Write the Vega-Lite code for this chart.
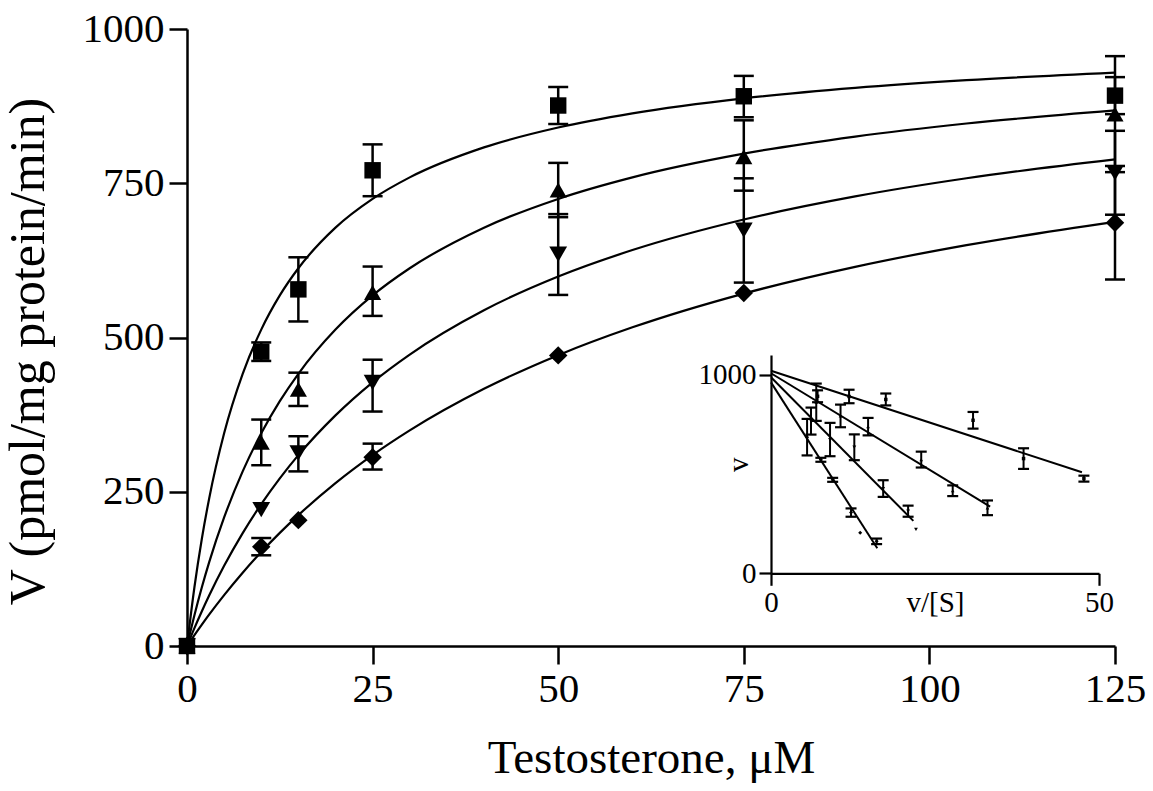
{
  "$schema": "https://vega.github.io/schema/vega-lite/v6.json",
  "width": 928,
  "height": 617,
  "autosize": {"type": "none"},
  "padding": {"left": 187, "top": 29, "right": 38, "bottom": 145},
  "background": "white",
  "config": {
    "view": {"stroke": null},
    "font": "Liberation Serif",
    "axis": {
      "grid": false, "domainColor": "black", "tickColor": "black", "labelColor": "black", "titleColor": "black",
      "labelFont": "Liberation Serif", "titleFont": "Liberation Serif", "titleFontWeight": "normal",
      "labelFlush": false, "labelOverlap": false, "labelBound": false, "format": "d"
    }
  },
  "datasets": {
    "pts": [
      {"s": "sq", "x": 0, "v": 0}, {"s": "sq", "x": 10, "v": 477}, {"s": "sq", "x": 15, "v": 578}, {"s": "sq", "x": 25, "v": 771}, {"s": "sq", "x": 50, "v": 876}, {"s": "sq", "x": 75, "v": 891}, {"s": "sq", "x": 125, "v": 892},
      {"s": "tu", "x": 0, "v": 0}, {"s": "tu", "x": 10, "v": 330}, {"s": "tu", "x": 15, "v": 416}, {"s": "tu", "x": 25, "v": 573}, {"s": "tu", "x": 50, "v": 739}, {"s": "tu", "x": 75, "v": 793}, {"s": "tu", "x": 125, "v": 862},
      {"s": "td", "x": 0, "v": 0}, {"s": "td", "x": 10, "v": 221}, {"s": "td", "x": 15, "v": 313}, {"s": "td", "x": 25, "v": 427}, {"s": "td", "x": 50, "v": 635}, {"s": "td", "x": 75, "v": 674}, {"s": "td", "x": 125, "v": 767},
      {"s": "di", "x": 0, "v": 0}, {"s": "di", "x": 10, "v": 161}, {"s": "di", "x": 15, "v": 204}, {"s": "di", "x": 25, "v": 306}, {"s": "di", "x": 50, "v": 471}, {"s": "di", "x": 75, "v": 572}, {"s": "di", "x": 125, "v": 686}
    ],
    "errs": [
      {"s": "sq", "x": 10, "lo": 462, "hi": 492}, {"s": "sq", "x": 15, "lo": 526, "hi": 630}, {"s": "sq", "x": 25, "lo": 729, "hi": 813}, {"s": "sq", "x": 50, "lo": 846, "hi": 906}, {"s": "sq", "x": 75, "lo": 857, "hi": 924}, {"s": "sq", "x": 125, "lo": 862, "hi": 922},
      {"s": "tu", "x": 10, "lo": 293, "hi": 367}, {"s": "tu", "x": 15, "lo": 389, "hi": 443}, {"s": "tu", "x": 25, "lo": 535, "hi": 615}, {"s": "tu", "x": 50, "lo": 695, "hi": 783}, {"s": "tu", "x": 75, "lo": 738, "hi": 852}, {"s": "tu", "x": 125, "lo": 768, "hi": 956},
      {"s": "td", "x": 15, "lo": 283, "hi": 340}, {"s": "td", "x": 25, "lo": 380, "hi": 464}, {"s": "td", "x": 50, "lo": 569, "hi": 700}, {"s": "td", "x": 75, "lo": 589, "hi": 758}, {"s": "td", "x": 125, "lo": 699, "hi": 835},
      {"s": "di", "x": 10, "lo": 147, "hi": 175}, {"s": "di", "x": 25, "lo": 286, "hi": 328}, {"s": "di", "x": 125, "lo": 594, "hi": 778}
    ],
    "curves": [
      {"s": "sq", "x": 0, "v": 0}, {"s": "sq", "x": 1, "v": 95.2}, {"s": "sq", "x": 2, "v": 173.9}, {"s": "sq", "x": 3, "v": 240}, {"s": "sq", "x": 5, "v": 344.8}, {"s": "sq", "x": 7.5, "v": 441.2}, {"s": "sq", "x": 10, "v": 512.8}, {"s": "sq", "x": 12.5, "v": 568.2}, {"s": "sq", "x": 15, "v": 612.2}, {"s": "sq", "x": 20, "v": 678}, {"s": "sq", "x": 25, "v": 724.6}, {"s": "sq", "x": 30, "v": 759.5}, {"s": "sq", "x": 40, "v": 808.1}, {"s": "sq", "x": 50, "v": 840.3}, {"s": "sq", "x": 60, "v": 863.3}, {"s": "sq", "x": 75, "v": 887.6}, {"s": "sq", "x": 90, "v": 904.5}, {"s": "sq", "x": 105, "v": 917}, {"s": "sq", "x": 125, "v": 929.4},
      {"s": "tu", "x": 0, "v": 0}, {"s": "tu", "x": 1, "v": 50}, {"s": "tu", "x": 2, "v": 95.2}, {"s": "tu", "x": 3, "v": 136.4}, {"s": "tu", "x": 5, "v": 208.3}, {"s": "tu", "x": 7.5, "v": 283}, {"s": "tu", "x": 10, "v": 344.8}, {"s": "tu", "x": 12.5, "v": 396.8}, {"s": "tu", "x": 15, "v": 441.2}, {"s": "tu", "x": 20, "v": 512.8}, {"s": "tu", "x": 25, "v": 568.2}, {"s": "tu", "x": 30, "v": 612.2}, {"s": "tu", "x": 40, "v": 678}, {"s": "tu", "x": 50, "v": 724.6}, {"s": "tu", "x": 60, "v": 759.5}, {"s": "tu", "x": 75, "v": 797.9}, {"s": "tu", "x": 90, "v": 825.7}, {"s": "tu", "x": 105, "v": 846.8}, {"s": "tu", "x": 125, "v": 868.1},
      {"s": "td", "x": 0, "v": 0}, {"s": "td", "x": 1, "v": 29}, {"s": "td", "x": 2, "v": 56.3}, {"s": "td", "x": 3, "v": 82.2}, {"s": "td", "x": 5, "v": 129.9}, {"s": "td", "x": 7.5, "v": 182.9}, {"s": "td", "x": 10, "v": 229.9}, {"s": "td", "x": 12.5, "v": 271.7}, {"s": "td", "x": 15, "v": 309.3}, {"s": "td", "x": 20, "v": 373.8}, {"s": "td", "x": 25, "v": 427.4}, {"s": "td", "x": 30, "v": 472.4}, {"s": "td", "x": 40, "v": 544.2}, {"s": "td", "x": 50, "v": 598.8}, {"s": "td", "x": 60, "v": 641.7}, {"s": "td", "x": 75, "v": 691.2}, {"s": "td", "x": 90, "v": 728.7}, {"s": "td", "x": 105, "v": 758.1}, {"s": "td", "x": 125, "v": 788.6},
      {"s": "di", "x": 0, "v": 0}, {"s": "di", "x": 1, "v": 17.7}, {"s": "di", "x": 2, "v": 34.7}, {"s": "di", "x": 3, "v": 51.2}, {"s": "di", "x": 5, "v": 82.5}, {"s": "di", "x": 7.5, "v": 118.8}, {"s": "di", "x": 10, "v": 152.3}, {"s": "di", "x": 12.5, "v": 183.3}, {"s": "di", "x": 15, "v": 212.1}, {"s": "di", "x": 20, "v": 264}, {"s": "di", "x": 25, "v": 309.4}, {"s": "di", "x": 30, "v": 349.4}, {"s": "di", "x": 40, "v": 416.8}, {"s": "di", "x": 50, "v": 471.4}, {"s": "di", "x": 60, "v": 516.5}, {"s": "di", "x": 75, "v": 571.2}, {"s": "di", "x": 90, "v": 614.5}, {"s": "di", "x": 105, "v": 649.7}, {"s": "di", "x": 125, "v": 687.5}
    ],
    "ipts": [
      {"s": "sq", "vs": 47.7, "v": 477}, {"s": "sq", "vs": 38.5, "v": 578}, {"s": "sq", "vs": 30.8, "v": 771}, {"s": "sq", "vs": 17.5, "v": 876}, {"s": "sq", "vs": 11.9, "v": 891}, {"s": "sq", "vs": 7.1, "v": 892},
      {"s": "tu", "vs": 33.0, "v": 330}, {"s": "tu", "vs": 27.7, "v": 416}, {"s": "tu", "vs": 22.9, "v": 573}, {"s": "tu", "vs": 14.8, "v": 739}, {"s": "tu", "vs": 10.6, "v": 793}, {"s": "tu", "vs": 6.9, "v": 862},
      {"s": "td", "vs": 22.1, "v": 221}, {"s": "td", "vs": 20.9, "v": 313}, {"s": "td", "vs": 17.1, "v": 427}, {"s": "td", "vs": 12.7, "v": 635}, {"s": "td", "vs": 9.0, "v": 674}, {"s": "td", "vs": 6.1, "v": 767},
      {"s": "di", "vs": 16.1, "v": 161}, {"s": "di", "vs": 13.6, "v": 204}, {"s": "di", "vs": 12.2, "v": 306}, {"s": "di", "vs": 9.4, "v": 471}, {"s": "di", "vs": 7.6, "v": 572}, {"s": "di", "vs": 5.5, "v": 686}
    ],
    "ierrs": [
      {"s": "sq", "vs": 47.7, "lo": 462, "hi": 492}, {"s": "sq", "vs": 38.5, "lo": 526, "hi": 630}, {"s": "sq", "vs": 30.8, "lo": 729, "hi": 813}, {"s": "sq", "vs": 17.5, "lo": 846, "hi": 906}, {"s": "sq", "vs": 11.9, "lo": 857, "hi": 925}, {"s": "sq", "vs": 7.1, "lo": 862, "hi": 922},
      {"s": "tu", "vs": 33.0, "lo": 293, "hi": 367}, {"s": "tu", "vs": 27.7, "lo": 389, "hi": 443}, {"s": "tu", "vs": 22.9, "lo": 533, "hi": 613}, {"s": "tu", "vs": 14.8, "lo": 695, "hi": 783}, {"s": "tu", "vs": 10.6, "lo": 736, "hi": 850}, {"s": "tu", "vs": 6.9, "lo": 768, "hi": 956},
      {"s": "td", "vs": 20.9, "lo": 285, "hi": 341}, {"s": "td", "vs": 17.1, "lo": 385, "hi": 469}, {"s": "td", "vs": 12.7, "lo": 570, "hi": 700}, {"s": "td", "vs": 9.0, "lo": 590, "hi": 758}, {"s": "td", "vs": 6.1, "lo": 699, "hi": 835},
      {"s": "di", "vs": 16.1, "lo": 147, "hi": 175}, {"s": "di", "vs": 12.2, "lo": 285, "hi": 327}, {"s": "di", "vs": 9.4, "lo": 461, "hi": 481}, {"s": "di", "vs": 7.6, "lo": 562, "hi": 582}, {"s": "di", "vs": 5.5, "lo": 594, "hi": 778}
    ],
    "ilines": [
      {"s": "sq", "vs": 0, "v": 1021}, {"s": "sq", "vs": 47.4, "v": 509},
      {"s": "tu", "vs": 0, "v": 1008}, {"s": "tu", "vs": 33.4, "v": 336},
      {"s": "td", "vs": 0, "v": 988}, {"s": "td", "vs": 21.7, "v": 264},
      {"s": "di", "vs": 0, "v": 962}, {"s": "di", "vs": 16.2, "v": 126}
    ]
  },
  "layer": [
    {
      "encoding": {
        "x": {
          "field": "x", "type": "quantitative",
          "scale": {"domain": [0, 125], "nice": false, "zero": false},
          "axis": {
            "values": [0, 25, 50, 75, 100, 125], "title": "Testosterone, μM",
            "labelFontSize": 41, "titleFontSize": 47, "tickSize": 18, "tickWidth": 2.5, "domainWidth": 2.5,
            "labelPadding": 5, "titlePadding": 26
          }
        }
      },
      "layer": [
        {
          "data": {"name": "curves"},
          "mark": {"type": "line", "color": "black", "strokeWidth": 2.2, "interpolate": "monotone"},
          "encoding": {
            "y": {
              "field": "v", "type": "quantitative", "title": "V (pmol/mg protein/min)",
              "scale": {"domain": [0, 1000], "nice": false},
              "axis": {
                "values": [0, 250, 500, 750, 1000], "labelFontSize": 41, "titleFontSize": 50,
                "tickSize": 18, "tickWidth": 2.5, "domainWidth": 2.5, "labelPadding": 5, "titleX": -134, "titleY": 322
              }
            },
            "detail": {"field": "s"}
          }
        },
        {
          "data": {"name": "errs"},
          "mark": {"type": "rule", "color": "black", "strokeWidth": 2.5},
          "encoding": {
            "y": {"field": "lo", "type": "quantitative", "title": "V (pmol/mg protein/min)"},
            "y2": {"field": "hi"}
          }
        },
        {
          "data": {"name": "errs"},
          "mark": {"type": "tick", "orient": "horizontal", "color": "black", "size": 20, "thickness": 2.5, "opacity": 1},
          "encoding": {"y": {"field": "lo", "type": "quantitative", "title": "V (pmol/mg protein/min)"}}
        },
        {
          "data": {"name": "errs"},
          "mark": {"type": "tick", "orient": "horizontal", "color": "black", "size": 20, "thickness": 2.5, "opacity": 1},
          "encoding": {"y": {"field": "hi", "type": "quantitative", "title": "V (pmol/mg protein/min)"}}
        },
        {
          "data": {"name": "pts"},
          "mark": {"type": "point", "filled": true, "color": "black", "opacity": 1, "strokeWidth": 0},
          "encoding": {
            "y": {"field": "v", "type": "quantitative", "title": "V (pmol/mg protein/min)"},
            "shape": {"field": "s", "type": "nominal", "scale": {"domain": ["sq", "tu", "td", "di"], "range": ["square", "triangle-up", "triangle-down", "diamond"]}, "legend": null},
            "size": {"field": "s", "type": "nominal", "scale": {"domain": ["sq", "tu", "td", "di"], "range": [270, 340, 340, 380]}, "legend": null}
          }
        }
      ]
    },
    {
      "encoding": {
        "x": {
          "field": "vs", "type": "quantitative",
          "scale": {"domain": [0, 50], "range": [584, 912], "nice": false, "zero": false},
          "axis": {
            "orient": "bottom", "offset": -72.7, "values": [0, 50], "title": "v/[S]",
            "labelFontSize": 29, "titleFontSize": 29, "tickSize": 12, "tickWidth": 2.2, "domainWidth": 2.2,
            "labelPadding": 3, "titleY": 15, "titleBaseline": "top"
          }
        }
      },
      "layer": [
        {
          "data": {"name": "ilines"},
          "mark": {"type": "line", "color": "black", "strokeWidth": 2},
          "encoding": {
            "y": {
              "field": "v", "type": "quantitative", "title": "v",
              "scale": {"domain": [0, 1100], "range": [544.3, 326], "nice": false},
              "axis": {
                "orient": "left", "offset": -584, "values": [0, 1000], "labelFontSize": 29, "titleFontSize": 29,
                "tickSize": 12, "tickWidth": 2.2, "domainWidth": 2.2, "labelPadding": 3,
                "titleX": -24, "titleBaseline": "alphabetic"
              }
            },
            "detail": {"field": "s"}
          }
        },
        {
          "data": {"name": "ierrs"},
          "mark": {"type": "rule", "color": "black", "strokeWidth": 2},
          "encoding": {
            "y": {"field": "lo", "type": "quantitative", "title": "v"},
            "y2": {"field": "hi"}
          }
        },
        {
          "data": {"name": "ierrs"},
          "mark": {"type": "tick", "orient": "horizontal", "color": "black", "size": 11, "thickness": 2.2, "opacity": 1},
          "encoding": {"y": {"field": "lo", "type": "quantitative", "title": "v"}}
        },
        {
          "data": {"name": "ierrs"},
          "mark": {"type": "tick", "orient": "horizontal", "color": "black", "size": 11, "thickness": 2.2, "opacity": 1},
          "encoding": {"y": {"field": "hi", "type": "quantitative", "title": "v"}}
        },
        {
          "data": {"name": "ipts"},
          "mark": {"type": "point", "filled": true, "color": "black", "opacity": 1, "strokeWidth": 0},
          "encoding": {
            "y": {"field": "v", "type": "quantitative", "title": "v"},
            "shape": {"field": "s", "type": "nominal", "scale": {"domain": ["sq", "tu", "td", "di"], "range": ["square", "triangle-up", "triangle-down", "diamond"]}, "legend": null},
            "size": {"field": "s", "type": "nominal", "scale": {"domain": ["sq", "tu", "td", "di"], "range": [12, 16, 16, 16]}, "legend": null}
          }
        }
      ]
    }
  ],
  "resolve": {
    "scale": {"x": "independent", "y": "independent", "shape": "independent", "size": "independent"},
    "axis": {"x": "independent", "y": "independent"}
  }
}
